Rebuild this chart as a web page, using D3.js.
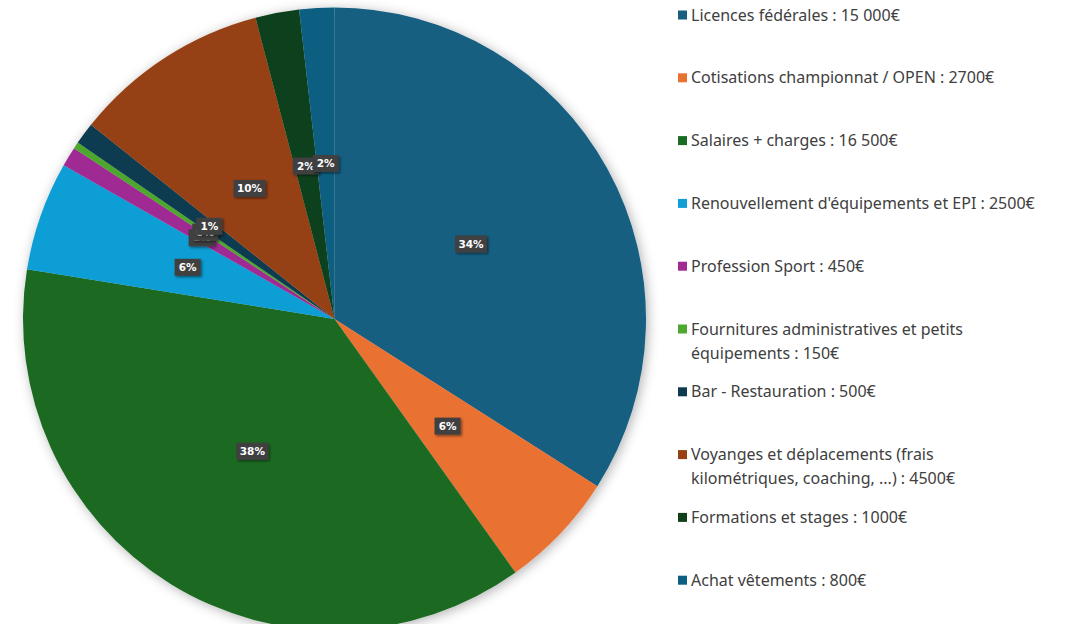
<!DOCTYPE html>
<html>
<head>
<meta charset="utf-8">
<script src="https://cdn.jsdelivr.net/npm/d3@7"></script>
<style>
  body { margin: 0; background: #fff; }
  .legend text { font-family: "Noto Sans", "Open Sans", sans-serif; font-size: 16px; fill: #404040; }
  .lbl text { font-family: "DejaVu Sans", sans-serif; font-size: 10.5px; font-weight: bold; fill: #fff; }
</style>
</head>
<body>
<script>
const width = 1081;
const height = 624;

// postes du budget
const categories = [
  "Licences fédérales",
  "Cotisations championnat / OPEN",
  "Salaires + charges",
  "Renouvellement d'équipements et EPI",
  "Profession Sport",
  "Fournitures administratives et petits équipements",
  "Bar - Restauration",
  "Voyanges et déplacements (frais kilométriques, coaching, ...)",
  "Formations et stages",
  "Achat vêtements"
];
const values = [15000, 2700, 16500, 2500, 450, 150, 500, 4500, 1000, 800];
const legendLines = [
  ["Licences fédérales : 15 000€"],
  ["Cotisations championnat / OPEN : 2700€"],
  ["Salaires + charges : 16 500€"],
  ["Renouvellement d'équipements et EPI : 2500€"],
  ["Profession Sport : 450€"],
  ["Fournitures administratives et petits", "équipements : 150€"],
  ["Bar - Restauration : 500€"],
  ["Voyanges et déplacements (frais", "kilométriques, coaching, ...) : 4500€"],
  ["Formations et stages : 1000€"],
  ["Achat vêtements : 800€"]
];
const colors = ["#175e81", "#e97132", "#1b6b24", "#0f9ed5", "#a02b93",
                "#4ea72e", "#0d3a4f", "#964013", "#10401a", "#0c5f82"];

const svg = d3.select("body")
  .append("svg")
  .attr("width", width)
  .attr("height", height);

const defs = svg.append("defs");
const shadow = defs.append("filter").attr("id", "shadow")
  .attr("x", "-10%").attr("y", "-10%").attr("width", "120%").attr("height", "120%");
shadow.append("feDropShadow")
  .attr("dx", 2).attr("dy", 2).attr("stdDeviation", 6)
  .attr("flood-color", "#000").attr("flood-opacity", 0.3);
const boxShadow = defs.append("filter").attr("id", "boxShadow")
  .attr("x", "-30%").attr("y", "-30%").attr("width", "160%").attr("height", "160%");
boxShadow.append("feDropShadow")
  .attr("dx", 1.5).attr("dy", 1.5).attr("stdDeviation", 1.2)
  .attr("flood-color", "#000").attr("flood-opacity", 0.45);

const cx = 334.5, cy = 319, radius = 311.5;

const pie = d3.pie().sort(null).value(d => d)(values);
const arc = d3.arc().innerRadius(0).outerRadius(radius);
const labelArc = d3.arc().innerRadius(radius * 0.5).outerRadius(radius * 0.5);

const g = svg.append("g").attr("transform", `translate(${cx},${cy})`);

g.append("g")
  .attr("filter", "url(#shadow)")
  .selectAll("path")
  .data(pie)
  .join("path")
  .attr("d", arc)
  .attr("fill", (d, i) => colors[i]);

// pourcentages arrondis au plus fort reste
const total = d3.sum(values);
const raw = values.map(v => v / total * 100);
const pct = raw.map(Math.floor);
let rest = 100 - d3.sum(pct);
d3.range(raw.length)
  .sort((a, b) => (raw[b] - pct[b]) - (raw[a] - pct[a]))
  .slice(0, rest)
  .forEach(i => pct[i] += 1);

const lbl = g.append("g").attr("class", "lbl")
  .selectAll("g")
  .data(pie)
  .join("g")
  .attr("transform", d => `translate(${labelArc.centroid(d)})`);

lbl.append("rect")
  .attr("x", (d, i) => pct[i] >= 10 ? -16 : -13)
  .attr("y", -8.5)
  .attr("width", (d, i) => pct[i] >= 10 ? 32 : 26)
  .attr("height", 17)
  .attr("fill", "#404040")
  .attr("filter", "url(#boxShadow)");

lbl.append("text")
  .attr("text-anchor", "middle")
  .attr("dy", "0.35em")
  .text((d, i) => pct[i] + "%");

// légende
const legend = svg.append("g").attr("class", "legend")
  .selectAll("g")
  .data(categories)
  .join("g")
  .attr("transform", (d, i) => `translate(678,${15 + i * 62.8})`);

legend.append("rect")
  .attr("x", 0).attr("y", -4.5)
  .attr("width", 9).attr("height", 9)
  .attr("fill", (d, i) => colors[i]);

legend.append("text")
  .attr("x", 13)
  .selectAll("tspan")
  .data((d, i) => legendLines[i])
  .join("tspan")
  .attr("x", 13)
  .attr("dy", (d, j) => j === 0 ? "0.35em" : "24px")
  .text(d => d);
</script>
</body>
</html>
